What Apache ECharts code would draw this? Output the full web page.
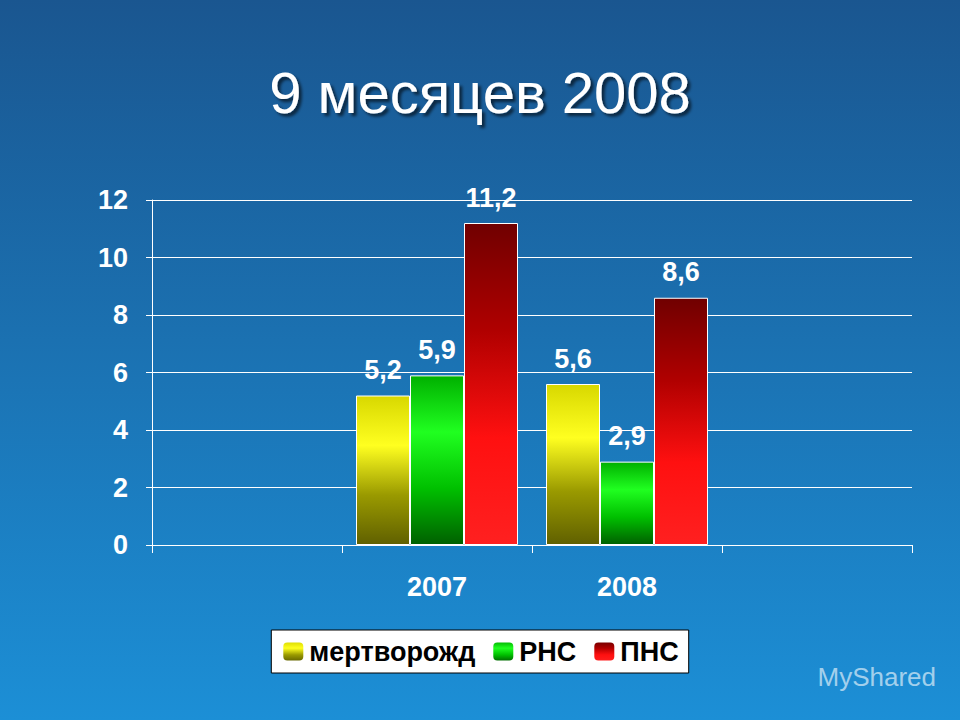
<!DOCTYPE html>
<html>
<head>
<meta charset="utf-8">
<script src="https://cdn.jsdelivr.net/npm/echarts@6/dist/echarts.min.js"></script>
<style>html,body{margin:0;padding:0;}#main{width:960px;height:720px;}</style>
</head>
<body>
<div id="main"></div>
<script>
var categories = ['', '2007', '2008', ''];
var stillbirth = [null, 5.2, 5.6, null];
var earlyNeonatal = [null, 5.9, 2.9, null];
var perinatal = [null, 11.2, 8.6, null];
var yTicks = [0, 2, 4, 6, 8, 10, 12];

var myChart = echarts.init(document.getElementById('main'), null, { renderer: 'svg' });

function grad(stops) {
    return new echarts.graphic.LinearGradient(0, 0, 0, 1, stops.map(function (c, i) {
        return { offset: i / (stops.length - 1), color: c };
    }));
}
var yellowFill = grad(['#d8d800', '#ffff20', '#9a9a00', '#606000']);
var greenFill = grad(['#00b000', '#20ff20', '#00c000', '#006000']);
var redFill = grad(['#700000', '#b00000', '#ff1010', '#ff2020']);

var font = 'Liberation Sans';
var label = {
    show: true,
    position: 'top',
    distance: 12,
    color: '#fff',
    fontSize: 27,
    fontWeight: 'bold',
    fontFamily: font,
    formatter: function (p) { return String(p.value).replace('.', ','); }
};
function bar(name, data, fill) {
    return {
        name: name,
        type: 'bar',
        data: data,
        barWidth: 54,
        barGap: '0%',
        label: label,
        itemStyle: { color: fill, borderColor: '#fff', borderWidth: 1 }
    };
}

var option = {
    backgroundColor: new echarts.graphic.LinearGradient(0, 0, 0, 1, [
        { offset: 0, color: '#1a5690' },
        { offset: 1, color: '#1c8fd6' }
    ]),
    title: {
        text: '9 месяцев 2008',
        left: 'center',
        top: 58,
        textStyle: {
            color: '#fff', fontSize: 58, fontWeight: 'normal', fontFamily: font,
            textShadowColor: 'rgba(0,0,0,0.6)', textShadowBlur: 3, textShadowOffsetX: 3, textShadowOffsetY: 3
        }
    },
    grid: { left: 152, right: 48, top: 200, bottom: 175 },
    legend: {
        bottom: 47,
        left: 'center',
        backgroundColor: '#fff',
        borderColor: '#000',
        borderWidth: 1,
        padding: [8, 10],
        itemWidth: 22,
        itemHeight: 20,
        itemGap: 16,
        textStyle: { color: '#000', fontSize: 27, fontWeight: 'bold', fontFamily: font },
        data: ['мертворожд', 'РНС', 'ПНС']
    },
    xAxis: {
        type: 'category',
        data: categories,
        axisLine: { lineStyle: { color: '#fff', width: 1 } },
        axisTick: { show: true, length: 8, lineStyle: { color: '#fff' } },
        axisLabel: { color: '#fff', fontSize: 27, fontWeight: 'bold', fontFamily: font, margin: 28 }
    },
    yAxis: {
        type: 'value',
        min: yTicks[0],
        max: yTicks[yTicks.length - 1],
        interval: 2,
        axisLine: { show: true, lineStyle: { color: '#fff' } },
        axisTick: { show: true, length: 6, lineStyle: { color: '#fff' } },
        splitLine: { lineStyle: { color: '#fff', width: 1 } },
        axisLabel: { color: '#fff', fontSize: 27, fontWeight: 'bold', fontFamily: font, margin: 24 }
    },
    graphic: [{
        type: 'text', right: 24, bottom: 30,
        style: { text: 'MyShared', fill: 'rgba(255,255,255,0.6)', font: '26px Liberation Sans' }
    }],
    series: [
        bar('мертворожд', stillbirth, yellowFill),
        bar('РНС', earlyNeonatal, greenFill),
        bar('ПНС', perinatal, redFill)
    ]
};
option && myChart.setOption(option);
</script>
</body>
</html>
